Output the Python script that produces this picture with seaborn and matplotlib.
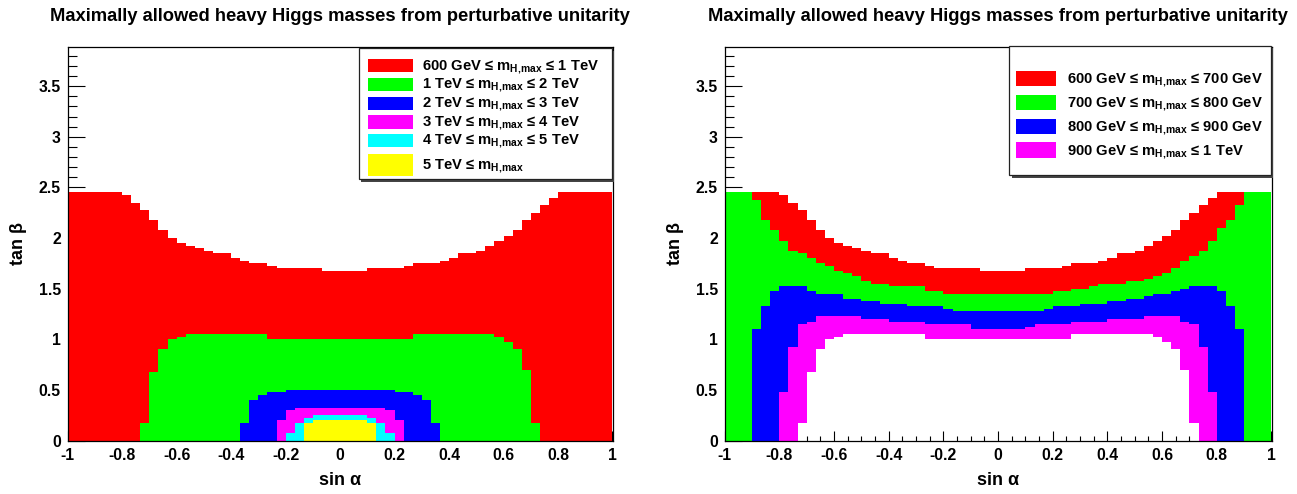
import numpy as np
import pandas as pd
import matplotlib
matplotlib.use("Agg")
import matplotlib.pyplot as plt
import seaborn as sns
from matplotlib.colors import ListedColormap
from matplotlib.patches import Rectangle

# ---------------- data ----------------
# sin(alpha) is binned in 60 columns over [-1, 1]; tan(beta) in 0.025 steps up to 2.45.
# For each column: largest tan(beta) for which m_H,max >= threshold.
tanb_max_600 = [2.45]*6 + [2.43, 2.35, 2.27, 2.18, 2.07, 2.01, 1.96, 1.92, 1.90, 1.87,
                1.84, 1.84, 1.81, 1.78, 1.75, 1.74, 1.72, 1.71, 1.71, 1.71,
                1.71, 1.69, 1.67, 1.67, 1.67, 1.67, 1.67, 1.69, 1.70, 1.70,
                1.71, 1.72, 1.74, 1.74, 1.76, 1.78, 1.81, 1.84, 1.84, 1.88,
                1.93, 1.98, 2.02, 2.07, 2.17, 2.25, 2.33, 2.41] + [2.45]*6
tanb_max_700 = [2.45]*3 + [2.38, 2.17, 2.07, 1.97, 1.88, 1.85, 1.81, 1.74, 1.72, 1.68,
                1.65, 1.62, 1.58, 1.55, 1.55, 1.53, 1.52, 1.52, 1.52, 1.48,
                1.47] + [1.46]*12 + [1.47, 1.48, 1.51, 1.51, 1.53, 1.55, 1.55, 1.55,
                1.57, 1.57, 1.60, 1.62, 1.66, 1.70, 1.77, 1.82, 1.88, 1.97,
                2.10, 2.18, 2.33] + [2.45]*3
tanb_max_800 = [0.0]*3 + [1.11, 1.32, 1.47, 1.52, 1.53, 1.52, 1.48, 1.46, 1.45, 1.45,
                1.41, 1.41, 1.38, 1.38, 1.36, 1.34, 1.34, 1.33, 1.32, 1.32,
                1.32, 1.30] + [1.27]*10 + [1.29, 1.32, 1.32, 1.32, 1.34, 1.36, 1.36,
                1.37, 1.38, 1.40, 1.41, 1.43, 1.45, 1.45, 1.47, 1.50, 1.52,
                1.53, 1.52, 1.47, 1.33, 1.11] + [0.0]*3
tanb_max_900 = [0.0]*6 + [0.48, 0.93, 1.14, 1.17] + [1.22]*5 + [1.19]*3 + [1.17]*4 \
               + [1.14]*5 + [1.11]*6 + [1.13] + [1.14]*4 + [1.17]*4 + [1.19]*3 \
               + [1.21] + [1.22]*4 + [1.18, 1.14, 0.93, 0.48] + [0.0]*6
tanb_max_1000 = [0.0]*8 + [0.18, 0.68, 0.90, 0.99, 1.03] + [1.05]*3 + [1.04]*6 \
                + [1.01]*16 + [1.04]*9 + [1.03, 0.97, 0.90, 0.70, 0.18] + [0.0]*8
tanb_max_2000 = [0.0]*19 + [0.18, 0.40, 0.45, 0.47, 0.48] + [0.50]*12 \
                + [0.48, 0.47, 0.45, 0.40, 0.18] + [0.0]*19
tanb_max_3000 = [0.0]*23 + [0.20, 0.29, 0.32] + [0.33]*8 + [0.32, 0.29, 0.20] + [0.0]*23
tanb_max_4000 = [0.0]*24 + [0.08, 0.18, 0.23, 0.25] + [0.26]*4 \
                + [0.25, 0.23, 0.18, 0.08] + [0.0]*24
tanb_max_5000 = [0.0]*26 + [0.17, 0.20] + [0.21]*4 + [0.20, 0.17] + [0.0]*26

thresholds_gev = [600, 700, 800, 900, 1000, 2000, 3000, 4000, 5000]
boundaries = [tanb_max_600, tanb_max_700, tanb_max_800, tanb_max_900, tanb_max_1000,
              tanb_max_2000, tanb_max_3000, tanb_max_4000, tanb_max_5000]

SUB = r"m$_{\mathbf{H,\!max}}$"
left_edges = [600, 1000, 2000, 3000, 4000, 5000]
left_colors = ["#ff0000", "#00ff00", "#0000ff", "#ff00ff", "#00ffff", "#ffff00"]
left_labels = ["600 GeV ≤ " + SUB + " ≤ 1 TeV",
               "1 TeV ≤ " + SUB + " ≤ 2 TeV",
               "2 TeV ≤ " + SUB + " ≤ 3 TeV",
               "3 TeV ≤ " + SUB + " ≤ 4 TeV",
               "4 TeV ≤ " + SUB + " ≤ 5 TeV",
               "5 TeV ≤ " + SUB]
right_edges = [600, 700, 800, 900, 1000]
right_colors = ["#ff0000", "#00ff00", "#0000ff", "#ff00ff"]
right_labels = ["600 GeV ≤ " + SUB + " ≤ 700 GeV",
                "700 GeV ≤ " + SUB + " ≤ 800 GeV",
                "800 GeV ≤ " + SUB + " ≤ 900 GeV",
                "900 GeV ≤ " + SUB + " ≤ 1 TeV"]
title = "Maximally allowed heavy Higgs masses from perturbative unitarity"
x_major = [-1, -0.8, -0.6, -0.4, -0.2, 0, 0.2, 0.4, 0.6, 0.8, 1]
y_major = [0, 0.5, 1, 1.5, 2, 2.5, 3, 3.5]

# ---------------- grid ----------------
N_SIN, SIN_LO, SIN_HI = 60, -1.0, 1.0
TB_STEP, TB_DATA_MAX, TB_AXIS_MAX = 0.025, 2.45, 3.89
n_tb = int(round(TB_DATA_MAX / TB_STEP))
sin_edges = np.linspace(SIN_LO, SIN_HI, N_SIN + 1)
sin_c = 0.5 * (sin_edges[1:] + sin_edges[:-1])
tb_c = (np.arange(n_tb) + 0.5) * TB_STEP

m_floor = np.zeros((n_tb, N_SIN))
for m, b in zip(thresholds_gev, boundaries):
    inside = tb_c[:, None] < np.asarray(b)[None, :]
    m_floor = np.where(inside, np.maximum(m_floor, m), m_floor)

cls_left = np.searchsorted(left_edges, m_floor, side="right").astype(float)
cls_right = np.searchsorted(right_edges, m_floor, side="right").astype(float)

df_left = pd.DataFrame(cls_left, index=np.round(tb_c, 4), columns=np.round(sin_c, 4))
df_right = pd.DataFrame(cls_right, index=np.round(tb_c, 4), columns=np.round(sin_c, 4))

# ---------------- style ----------------
sns.set_theme(style="white")
plt.rcParams["font.family"] = ["Liberation Sans", "DejaVu Sans"]
plt.rcParams["font.weight"] = "bold"
plt.rcParams["mathtext.fontset"] = "custom"
plt.rcParams["mathtext.rm"] = "Liberation Sans:bold"
plt.rcParams["mathtext.bf"] = "Liberation Sans:bold"
plt.rcParams["mathtext.it"] = "Liberation Sans:bold"

W, H = 1297, 494
fig = plt.figure(figsize=(W / 100, H / 100), dpi=100)
fig.patch.set_facecolor("white")


def px_rect(x0, y0, x1, y1):
    return [x0 / W, 1 - y1 / H, (x1 - x0) / W, (y1 - y0) / H]


ax_l = fig.add_axes(px_rect(67.7, 46.7, 612.5, 440.5))
ax_r = fig.add_axes(px_rect(724.7, 46.7, 1271.5, 440.5))

sin_to_cell = lambda s: (s - SIN_LO) / (SIN_HI - SIN_LO) * N_SIN
tb_to_cell = lambda t: t / TB_STEP


def fmt(v):
    v = round(v, 2) + 0.0
    return f"{v:g}"


def draw_panel(ax, df, mask, colors):
    n = len(colors)
    sns.heatmap(df, ax=ax, mask=mask, cmap=ListedColormap(colors), vmin=0.5,
                vmax=n + 0.5, cbar=False, xticklabels=False, yticklabels=False)
    ax.set_facecolor("white")
    ax.set_xlim(0, N_SIN)
    ax.set_ylim(0, tb_to_cell(TB_AXIS_MAX))
    for sp in ax.spines.values():
        sp.set_visible(True)
        sp.set_color("black")
        sp.set_linewidth(0.9)
    ax.set_xticks([sin_to_cell(v) for v in x_major])
    ax.set_xticklabels([fmt(v) for v in x_major])
    ax.set_xticks([sin_to_cell(v) for v in np.arange(-1, 1.0001, 0.05)], minor=True)
    ax.set_yticks([tb_to_cell(v) for v in y_major])
    ax.set_yticklabels([fmt(v) for v in y_major])
    ax.set_yticks([tb_to_cell(v) for v in np.arange(0, TB_AXIS_MAX, 0.1)], minor=True)
    ax.tick_params(axis="x", which="major", direction="in", length=7.5, width=0.8,
                   color="black", bottom=True, top=False, labelsize=11.3, pad=5.5,
                   labelrotation=0)
    ax.tick_params(axis="x", which="minor", direction="in", length=3.8, width=0.8,
                   color="black", bottom=True, top=False)
    ax.tick_params(axis="y", which="major", direction="in", length=12.5, width=0.8,
                   color="black", left=True, right=False, labelsize=11.3, pad=5,
                   labelrotation=0)
    ax.tick_params(axis="y", which="minor", direction="in", length=6.5, width=0.8,
                   color="black", left=True, right=False)
    for lab in ax.get_xticklabels() + ax.get_yticklabels():
        lab.set_fontweight("bold")
        lab.set_color("black")
    ax.set_xlabel("sin α", fontsize=13, fontweight="bold", labelpad=6.5, color="black")
    ax.set_ylabel("tan β", fontsize=13, fontweight="bold", labelpad=8, color="black")
    ax.set_title(title, fontsize=13.2, fontweight="bold", pad=18.5, color="black")


draw_panel(ax_l, df_left, cls_left == 0, left_colors)
draw_panel(ax_r, df_right, (cls_right == 0) | (cls_right == 5), right_colors)


def draw_legend(box, swatch_x, rows, text_x, colors, labels):
    x0, y0, x1, y1 = box
    fig.add_artist(Rectangle((x0 / W + 2.5 / W, 1 - (y1 + 2.5) / H), (x1 - x0) / W,
                             (y1 - y0) / H, transform=fig.transFigure,
                             facecolor="#444444", edgecolor="none", zorder=5))
    fig.add_artist(Rectangle((x0 / W, 1 - y1 / H), (x1 - x0) / W, (y1 - y0) / H,
                             transform=fig.transFigure, facecolor="white",
                             edgecolor="#222222", linewidth=0.9, zorder=6))
    for (yc, hh, base), c, lab in zip(rows, colors, labels):
        fig.add_artist(Rectangle((swatch_x[0] / W, 1 - (yc + hh / 2) / H),
                                 (swatch_x[1] - swatch_x[0]) / W, hh / H,
                                 transform=fig.transFigure, facecolor=c,
                                 edgecolor="none", zorder=7))
        fig.text(text_x / W, 1 - base / H, lab, fontsize=10.6, fontweight="bold",
                 ha="left", va="baseline", color="black", zorder=8)


left_rows = [(65.7, 13.3, 69.8), (84.3, 13.3, 88.5), (103.3, 13.3, 107.2),
             (122.0, 13.3, 125.9), (140.7, 13.3, 144.5), (165.5, 22.0, 169.5)]
draw_legend((359, 48.3, 611.7, 179.3), (368.3, 413.3), left_rows, 421.7,
            left_colors, left_labels)
right_rows = [(78.3, 15.3, 83.0), (102.2, 15.3, 106.8), (126.2, 15.3, 130.6),
              (150.0, 15.3, 154.6)]
draw_legend((1009.3, 46.0, 1270.5, 175.0), (1016, 1056), right_rows, 1066.7,
            right_colors, right_labels)

fig.savefig("out.png", dpi=100, facecolor="white")
